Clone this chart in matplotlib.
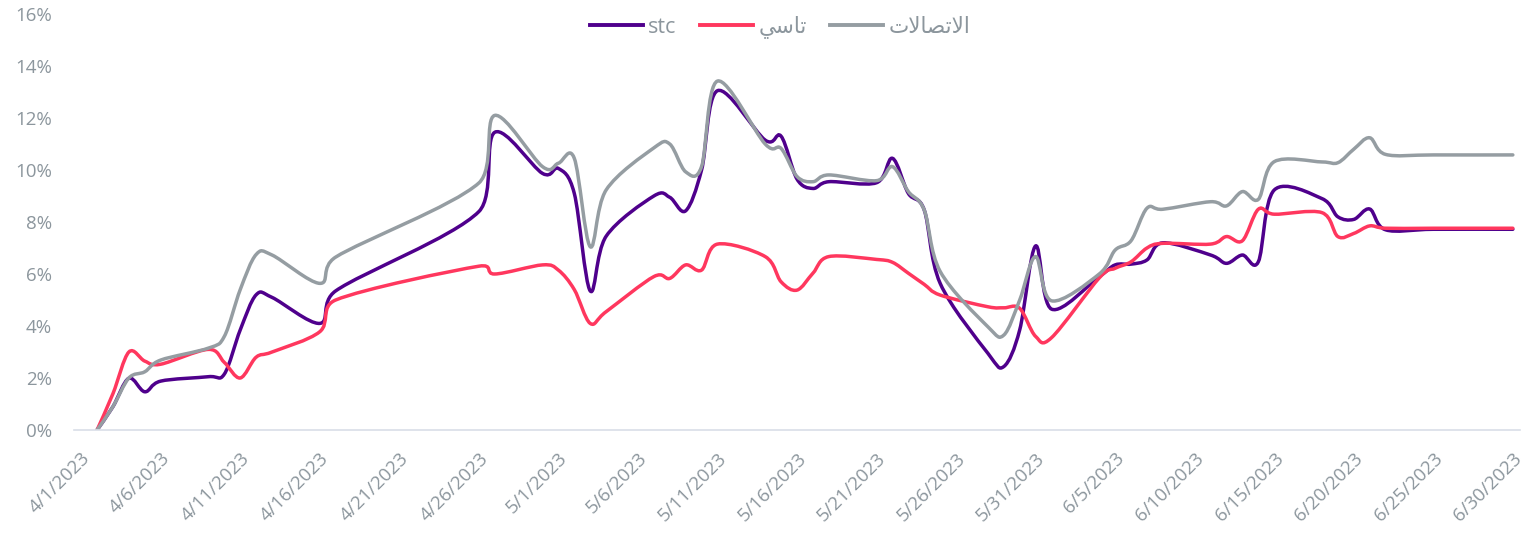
import matplotlib
matplotlib.use("Agg")
import matplotlib.pyplot as plt
import matplotlib.dates as mdates
from matplotlib.path import Path
from matplotlib.patches import PathPatch
from matplotlib.lines import Line2D
import numpy as np
import pandas as pd

# trading days (cumulative return, %)
dates = [
    "2023-04-02", "2023-04-03", "2023-04-04", "2023-04-05", "2023-04-06",
    "2023-04-09", "2023-04-10", "2023-04-11", "2023-04-12", "2023-04-13",
    "2023-04-16", "2023-04-17",
    "2023-04-26", "2023-04-27",
    "2023-04-30", "2023-05-01", "2023-05-02", "2023-05-03", "2023-05-04",
    "2023-05-07", "2023-05-08", "2023-05-09", "2023-05-10", "2023-05-11",
    "2023-05-14", "2023-05-15", "2023-05-16", "2023-05-17", "2023-05-18",
    "2023-05-21", "2023-05-22", "2023-05-23", "2023-05-24", "2023-05-25",
    "2023-05-28", "2023-05-29", "2023-05-30", "2023-05-31", "2023-06-01",
    "2023-06-04", "2023-06-05", "2023-06-06", "2023-06-07", "2023-06-08",
    "2023-06-11", "2023-06-12", "2023-06-13", "2023-06-14", "2023-06-15",
    "2023-06-18", "2023-06-19", "2023-06-20", "2023-06-21", "2023-06-22",
    "2023-06-25", "2023-06-30",
]

stc = [
    0, 0.9, 1.99, 1.47, 1.88,
    2.05, 2.15, 3.85, 5.2, 5.1,
    4.1, 5.35,
    8.4, 11.45,
    9.87, 10.06, 9.1, 5.35, 7.45,
    9.0, 8.95, 8.43, 10.0, 13.05,
    11.15, 11.3, 9.65, 9.29, 9.55,
    9.51, 10.45, 9.1, 8.46, 5.64,
    2.95, 2.44, 3.85, 7.08, 4.65,
    5.9, 6.35, 6.38, 6.54, 7.2,
    6.73, 6.41, 6.73, 6.47, 9.23,
    8.9, 8.2, 8.1, 8.5, 7.7,
    7.72, 7.72,
]

tasi = [
    0, 1.4, 3.0, 2.65, 2.53,
    3.1, 2.6, 2.0, 2.8, 3.0,
    3.78, 5.0,
    6.3, 6.0,
    6.35, 6.15, 5.4, 4.1, 4.55,
    5.9, 5.83, 6.35, 6.15, 7.15,
    6.67, 5.7, 5.38, 6.03, 6.67,
    6.56, 6.45, 6.03, 5.6, 5.19,
    4.74, 4.7, 4.68, 3.6, 3.55,
    5.85, 6.22, 6.47, 7.0, 7.18,
    7.15, 7.44, 7.28, 8.49, 8.3,
    8.36, 7.44, 7.56, 7.85, 7.76,
    7.76, 7.76,
]

etihad = [
    0, 0.9, 2.0, 2.24, 2.69,
    3.15, 3.6, 5.4, 6.75, 6.73,
    5.64, 6.65,
    9.5, 12.1,
    10.13, 10.26, 10.45, 7.05, 9.23,
    10.85, 11.0, 9.93, 10.13, 13.42,
    11.0, 10.83, 9.75, 9.55, 9.81,
    9.59, 10.13, 9.17, 8.46, 6.1,
    3.97, 3.65, 5.0, 6.67, 4.97,
    6.0, 6.92, 7.28, 8.53, 8.49,
    8.78, 8.62, 9.17, 8.87, 10.32,
    10.31, 10.28, 10.8, 11.24, 10.6,
    10.58, 10.58,
]

series_names = ["stc", "تاسي", "الاتصالات"]
series_values = [stc, tasi, etihad]
colors = ["#4F008C", "#FF375E", "#959DA2"]
y_ticks = [0, 2, 4, 6, 8, 10, 12, 14, 16]

text_color = "#8C969D"

# matplotlib has no Arabic shaping, so pick presentation forms by hand
AR_FORMS = {
    "\u0627": ("\uFE8D", "\uFE8E", None, None),
    "\u062A": ("\uFE95", "\uFE96", "\uFE97", "\uFE98"),
    "\u0633": ("\uFEB1", "\uFEB2", "\uFEB3", "\uFEB4"),
    "\u0635": ("\uFEB9", "\uFEBA", "\uFEBB", "\uFEBC"),
    "\u0644": ("\uFEDD", "\uFEDE", "\uFEDF", "\uFEE0"),
    "\u064A": ("\uFEF1", "\uFEF2", "\uFEF3", "\uFEF4"),
    "LA": ("\uFEFB", "\uFEFC", None, None),
}


def shape_arabic(text):
    if not any(ch in AR_FORMS for ch in text):
        return text
    tokens = []
    i = 0
    while i < len(text):
        if text[i] == "\u0644" and i + 1 < len(text) and text[i + 1] == "\u0627":
            tokens.append("LA")
            i += 2
        else:
            tokens.append(text[i])
            i += 1
    out = []
    for k, tok in enumerate(tokens):
        forms = AR_FORMS[tok]
        prev_joins = k > 0 and AR_FORMS[tokens[k - 1]][2] is not None
        next_joins = forms[2] is not None and k + 1 < len(tokens)
        if prev_joins and next_joins:
            out.append(forms[3])
        elif prev_joins:
            out.append(forms[1])
        elif next_joins:
            out.append(forms[2])
        else:
            out.append(forms[0])
    return "".join(reversed(out))


def smooth_path(x, y):
    # Excel-like smoothed line: cubic bezier through every point
    pts = np.column_stack([x, y]).astype(float)
    n = len(pts)
    verts = [pts[0]]
    codes = [Path.MOVETO]
    for i in range(n - 1):
        p0 = pts[i - 1] if i > 0 else pts[i]
        p1, p2 = pts[i], pts[i + 1]
        p3 = pts[i + 2] if i + 2 < n else pts[i + 1]
        t1 = (p2 - p0) / 6
        t2 = (p3 - p1) / 6
        dx = p2[0] - p1[0]
        if t1[0] > dx:
            t1 = t1 * dx / t1[0]
        if t2[0] > dx:
            t2 = t2 * dx / t2[0]
        verts += [p1 + t1, p2 - t2, p2]
        codes += [Path.CURVE4] * 3
    return Path(verts, codes)


x = mdates.date2num(pd.to_datetime(dates))
tick_dates = pd.date_range("2023-04-01", "2023-06-30", freq="5D")

fig = plt.figure(figsize=(15.37, 5.4), dpi=100)
ax = fig.add_axes([74 / 1537, 110 / 540, 1446 / 1537, 416 / 540])

for vals, c in zip(series_values, colors):
    ax.add_patch(PathPatch(smooth_path(x, vals), facecolor="none", edgecolor=c,
                           lw=2.5, capstyle="round", joinstyle="round"))

ax.set_xlim(mdates.date2num(tick_dates[0]) - 0.45, mdates.date2num(tick_dates[-1]) + 0.45)
ax.set_ylim(0, 16)

ax.set_yticks(y_ticks)
ax.set_yticklabels([f"{v}%" for v in y_ticks])
ax.set_xticks(mdates.date2num(tick_dates))
ax.set_xticklabels([f"{d.month}/{d.day}/{d.year}" for d in tick_dates])

for lab in ax.get_yticklabels():
    lab.set_fontfamily(["Open Sans", "DejaVu Sans"])
    lab.set_fontsize(13.5)
    lab.set_color(text_color)
for lab in ax.get_xticklabels():
    lab.set_fontfamily(["Open Sans", "DejaVu Sans"])
    lab.set_fontsize(13.5)
    lab.set_color(text_color)
    lab.set_rotation(45)
    lab.set_ha("right")
    lab.set_rotation_mode("anchor")

ax.tick_params(axis="y", length=0, pad=16)
ax.tick_params(axis="x", length=0, pad=14)

for side in ["top", "right", "left"]:
    ax.spines[side].set_visible(False)
ax.spines["bottom"].set_color("#D9DEE8")
ax.spines["bottom"].set_linewidth(1.2)

handles = [Line2D([], [], color=c, lw=2.8) for c in colors]
fig.legend(handles, [shape_arabic(n) for n in series_names], loc="center",
           bbox_to_anchor=(780 / 1537, 1 - 27 / 540), ncol=3, frameon=False,
           handlelength=2.45, handletextpad=0.25, columnspacing=1.1,
           labelcolor=text_color,
           prop={"family": ["Open Sans", "DejaVu Sans"], "size": 15.5})

fig.savefig("out.png", dpi=100)
